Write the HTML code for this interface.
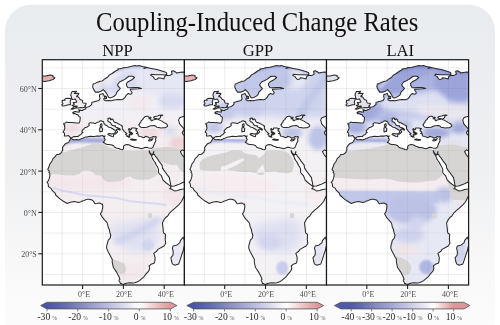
<!DOCTYPE html><html><head><meta charset="utf-8"><style>html,body{margin:0;padding:0;background:#fff;width:500px;height:325px;overflow:hidden}svg{display:block;will-change:transform}</style></head><body>
<svg width="500" height="325" viewBox="0 0 500 325">
<defs>
<linearGradient id="bg" x1="0" y1="0" x2="0" y2="1"><stop offset="0" stop-color="#e9ecef"/><stop offset="0.25" stop-color="#eceef1"/><stop offset="0.5" stop-color="#eff0f2"/><stop offset="0.62" stop-color="#f3f4f5"/><stop offset="0.72" stop-color="#f7f7f8"/><stop offset="0.85" stop-color="#fafafa"/><stop offset="1" stop-color="#fdfdfd"/></linearGradient>
<clipPath id="fr"><rect x="42.3" y="59.7" width="142.1" height="225.3"/></clipPath>
<path id="land" d="M70.8,138.6L71.8,138.3L71.8,138.9L73.2,139.8L74.6,139.7L76.7,139.6L78.1,140.0L79.9,139.6L81.4,138.6L82.8,138.3L85.3,137.1L87.1,136.9L88.7,136.5L90.6,136.3L93.0,136.6L94.4,136.4L96.7,136.1L98.5,136.1L100.1,136.1L102.8,135.4L103.4,136.4L105.1,135.9L104.2,137.3L104.2,138.5L105.2,139.1L104.6,140.7L103.2,142.4L104.8,143.1L105.2,143.7L107.5,144.5L109.5,144.5L111.8,145.0L113.6,145.8L114.6,147.2L116.5,148.0L119.3,148.8L120.5,149.5L122.6,149.7L123.6,148.6L123.4,147.4L123.6,146.2L125.2,144.9L126.9,144.5L128.7,144.7L129.9,145.3L131.6,146.3L133.8,146.8L134.0,147.4L136.7,147.4L138.1,147.7L141.6,148.7L143.6,148.0L144.6,147.5L145.8,147.2L147.5,147.4L148.5,147.9L151.6,148.2L152.9,147.4L153.5,146.2L154.0,144.7L154.4,143.7L155.0,142.4L155.7,141.3L155.8,140.4L155.5,139.1L155.8,138.3L156.3,136.9L155.6,136.6L154.6,136.9L153.2,136.5L151.8,137.5L149.5,138.1L147.9,137.0L145.2,136.3L144.8,137.3L143.0,137.7L142.0,136.9L140.3,136.5L138.5,135.9L138.1,135.2L138.2,134.3L136.3,133.4L137.9,133.1L137.1,132.1L137.1,131.3L135.8,130.9L136.5,129.5L136.0,129.7L136.7,128.9L137.2,128.6L135.7,128.4L135.3,128.1L133.6,127.9L132.4,127.9L131.2,128.3L131.4,129.0L130.2,130.0L129.4,128.8L129.3,128.5L128.7,128.9L128.7,129.8L129.4,131.2L130.1,131.7L129.1,132.1L129.9,132.7L130.7,133.3L131.6,133.8L131.6,134.7L130.7,134.1L129.4,134.1L129.8,134.7L129.9,135.4L129.0,134.9L129.3,136.1L129.6,136.7L129.9,137.2L129.0,136.6L128.6,136.6L128.5,137.3L128.2,136.5L127.7,136.0L127.4,136.5L126.9,136.4L126.8,135.5L126.3,134.7L125.6,134.2L126.9,133.5L126.3,133.3L125.6,132.6L124.9,132.0L124.2,131.3L123.9,130.9L123.4,130.1L123.1,129.7L122.3,128.9L122.3,128.2L122.3,127.2L122.4,126.1L121.8,125.9L121.6,125.5L120.7,125.1L119.5,124.4L118.3,123.7L116.2,122.6L115.1,122.6L113.6,121.4L113.4,120.8L113.0,119.5L112.1,118.8L111.6,119.3L111.0,120.0L110.3,119.3L110.3,118.5L110.6,118.2L109.5,118.0L107.8,118.6L108.2,119.6L107.7,120.8L108.2,121.5L110.3,122.4L111.4,124.3L111.6,124.7L113.2,125.7L115.0,125.8L115.6,125.9L115.0,126.5L115.9,127.2L117.1,127.5L119.2,128.5L120.3,129.5L120.0,130.3L119.2,129.7L117.8,128.9L116.5,129.5L116.3,130.5L117.4,131.1L117.6,131.8L116.4,133.2L115.3,134.1L114.5,133.8L114.9,132.6L115.6,132.2L115.3,131.3L114.8,130.1L114.5,129.7L113.8,129.8L113.1,129.2L112.7,128.5L111.9,128.6L111.7,128.1L111.1,127.9L110.2,127.4L109.2,127.3L108.3,126.9L107.6,126.3L106.7,125.5L105.2,124.9L104.9,124.3L104.0,123.8L104.0,123.0L103.6,122.5L103.5,121.8L102.7,121.4L101.8,121.0L100.8,120.7L99.9,121.0L99.2,121.7L98.4,122.0L97.4,122.3L97.1,122.5L96.4,122.8L95.6,123.4L94.6,123.4L93.5,123.0L92.5,122.9L92.0,122.9L91.2,122.7L90.1,122.8L89.6,123.1L88.8,123.6L88.8,124.3L89.3,125.1L89.1,125.6L87.1,127.0L85.7,127.4L85.1,127.6L84.3,128.4L83.6,129.0L82.7,129.9L81.9,131.0L82.3,131.9L83.0,132.5L81.6,133.3L81.3,134.0L80.6,134.8L79.3,135.2L78.1,136.6L77.6,136.4L75.5,136.6L73.6,136.6L72.6,137.1L71.7,137.8L71.2,138.1L69.7,137.0L69.5,136.5L68.4,135.6L66.4,136.0L64.3,136.0L64.6,134.2L64.4,133.1L63.8,132.5L63.2,132.4L63.4,131.2L64.1,130.5L64.4,129.5L64.8,128.6L64.9,127.5L64.5,126.3L64.4,125.5L64.8,125.2L64.0,124.5L63.7,123.9L63.8,123.3L65.5,122.9L66.5,122.1L68.2,122.5L71.1,122.5L74.8,122.7L76.6,122.9L78.6,123.0L79.4,122.7L79.9,121.2L80.0,120.2L80.2,118.5L80.2,117.2L78.9,116.4L78.2,115.7L78.1,114.8L77.1,114.4L76.3,114.4L75.7,113.9L74.6,113.6L73.7,113.7L73.0,113.2L73.8,113.0L73.2,112.7L72.8,112.6L72.9,112.2L74.4,111.8L75.5,111.6L76.5,111.7L77.5,112.1L78.5,112.0L79.5,112.0L79.3,111.6L79.3,110.9L78.6,109.8L79.3,109.9L80.0,109.8L80.3,110.4L82.2,110.6L82.8,110.3L82.9,109.9L83.4,109.7L84.8,109.3L85.7,108.8L85.9,107.7L86.4,107.2L87.4,107.0L88.6,106.7L89.5,106.4L89.9,106.0L90.8,105.2L91.0,105.1L91.3,104.9L91.9,104.1L91.7,102.6L95.0,101.5L98.9,100.4L100.0,98.7L99.4,96.0L99.7,94.6L101.6,94.0L103.0,93.5L104.1,95.7L105.0,97.9L103.9,98.4L103.9,99.9L105.5,100.7L108.3,100.5L111.1,100.7L114.1,99.9L118.1,99.5L121.5,99.7L123.5,98.9L125.2,97.2L126.2,95.2L128.3,93.5L130.3,94.2L131.7,93.8L132.0,92.2L130.7,90.5L130.3,89.3L134.4,88.9L138.2,88.8L141.5,88.4L138.2,87.6L134.4,87.5L129.6,87.8L127.8,87.4L126.6,85.8L126.4,83.5L128.1,81.7L131.8,79.8L134.5,77.5L132.7,76.2L129.0,76.2L127.2,77.5L124.9,79.4L122.1,80.8L119.5,82.0L117.5,84.7L118.5,86.7L120.3,88.4L118.8,90.1L116.8,92.2L115.8,94.9L114.1,96.2L111.4,97.6L110.0,98.0L108.8,97.6L107.7,95.4L106.1,92.7L103.3,89.6L101.0,91.2L98.9,92.1L95.5,92.1L93.9,89.9L93.4,88.5L93.0,87.7L92.7,86.9L92.7,86.1L92.9,85.2L93.1,84.0L95.1,83.4L96.1,82.9L96.9,82.5L98.3,82.1L100.1,81.3L102.2,80.9L103.4,80.1L104.0,79.4L105.5,78.5L107.5,77.3L108.3,76.2L109.1,75.1L112.0,73.5L113.8,72.2L115.2,71.2L116.5,70.4L118.3,69.6L117.9,68.9L121.3,68.6L123.2,67.7L125.4,67.5L127.5,67.3L130.9,66.5L132.6,66.0L135.2,65.5L136.7,65.9L139.0,65.6L140.7,65.9L143.4,66.7L146.0,67.1L144.4,67.9L143.9,68.5L146.9,67.6L151.2,68.4L157.0,69.6L162.8,71.3L166.3,72.5L166.9,74.2L165.1,75.0L161.6,74.8L155.8,74.8L151.2,74.2L150.6,75.4L153.0,76.6L154.1,78.3L155.3,79.5L157.6,78.9L158.2,77.7L161.6,78.3L164.0,78.9L164.5,76.6L166.3,75.6L169.8,75.4L172.1,74.2L171.5,71.3L173.2,70.8L175.6,71.9L176.7,73.1L179.0,72.5L182.5,71.9L186.0,72.5L190.0,72.5L205.0,71.0L205.0,149.5L185.2,150.1L185.2,150.5L183.6,150.5L182.4,149.9L181.5,150.6L180.5,151.5L180.4,151.8L180.8,152.4L181.4,153.6L182.2,155.0L183.2,156.3L184.6,157.3L185.0,158.3L185.8,159.8L187.7,161.9L196.8,161.9L204.6,166.0L199.9,173.2L194.8,177.3L188.7,179.8L182.8,182.5L178.5,184.6L174.4,186.0L171.3,186.3L170.7,185.0L170.2,181.9L169.7,180.0L169.4,177.6L167.3,174.9L165.4,172.2L163.8,170.1L162.5,168.1L162.1,166.0L162.2,165.4L161.1,163.9L160.2,162.7L159.1,161.4L158.5,160.4L157.0,158.2L155.2,156.1L154.4,154.6L153.4,154.4L153.8,151.5L153.4,152.6L153.0,153.6L152.5,155.2L151.1,154.0L150.1,152.8L149.0,150.6L149.2,151.5L149.3,152.4L150.3,154.0L151.7,156.3L152.5,158.6L153.8,160.7L155.6,163.1L155.2,163.1L156.9,166.0L157.4,166.6L158.5,169.1L158.5,172.0L158.8,173.0L160.5,174.9L161.3,175.5L162.8,179.4L163.1,180.2L164.6,181.5L166.6,183.3L169.8,185.6L170.9,186.7L170.6,188.5L169.5,188.7L170.9,189.0L171.3,189.0L174.4,190.9L177.5,190.4L180.5,189.4L183.6,189.0L187.1,188.0L187.5,191.0L186.4,192.8L184.2,195.9L181.5,201.5L178.9,204.6L175.1,208.2L172.4,210.4L169.4,213.2L167.5,216.2L166.0,217.2L164.4,219.1L163.5,220.8L162.4,223.0L162.8,226.5L163.1,228.6L163.2,230.8L163.7,233.1L164.6,233.7L165.5,234.5L165.2,239.2L165.6,242.4L165.7,243.5L164.0,246.0L157.9,249.4L156.7,251.3L153.7,253.4L154.6,255.8L155.1,257.9L154.8,261.7L154.0,263.2L151.1,264.3L149.1,266.0L149.7,267.8L149.1,270.3L148.0,271.9L145.9,274.1L144.4,276.3L142.4,278.1L139.5,280.6L137.5,281.8L134.9,282.7L133.3,283.1L129.6,282.8L127.8,283.0L125.4,283.5L123.4,284.4L122.0,283.9L121.1,283.4L120.3,283.4L120.2,282.5L119.3,281.0L119.0,280.1L119.9,279.4L119.6,278.3L118.5,275.8L116.2,271.6L114.6,269.2L113.4,267.5L113.0,265.9L112.2,262.0L112.2,259.8L112.2,259.3L111.2,257.5L109.5,254.2L108.1,251.7L106.6,248.1L106.8,245.1L107.4,243.8L108.1,240.3L109.9,238.4L110.2,238.0L110.8,235.2L109.9,232.7L109.5,230.6L109.1,229.0L108.1,226.9L107.7,224.9L107.5,223.9L106.8,222.4L105.2,220.6L104.3,219.6L102.8,217.8L102.4,217.6L100.4,213.8L101.9,211.6L102.0,210.4L102.5,208.6L102.8,206.4L102.4,204.1L101.4,204.2L100.3,203.2L99.5,203.1L97.9,203.3L96.7,203.5L95.0,203.7L93.8,201.9L92.6,200.3L89.5,199.2L87.5,199.3L85.1,199.9L84.4,200.4L82.2,201.0L80.6,201.9L78.3,202.6L76.5,201.9L74.4,201.6L71.4,202.0L68.9,202.8L67.2,203.5L65.1,202.3L63.4,201.3L60.6,199.4L59.1,198.2L55.6,195.0L55.5,193.9L54.7,192.8L53.2,191.4L52.2,190.4L50.8,188.1L49.1,187.1L48.4,186.5L48.3,184.8L48.0,183.5L46.9,182.1L47.7,181.6L48.7,180.0L48.9,179.3L49.6,177.3L49.9,175.1L49.7,173.2L48.9,172.4L49.3,171.1L47.8,169.6L48.1,168.7L49.1,166.2L50.1,163.5L51.6,161.9L53.0,158.6L55.5,156.4L56.3,154.7L59.3,154.2L61.8,152.4L61.8,151.8L62.9,149.6L62.5,149.2L62.6,147.4L63.7,145.8L65.3,143.8L67.1,143.1L68.6,142.2L69.1,141.6L70.1,139.8L70.3,139.2L70.5,138.5ZM105.2,96.0L106.6,96.8L106.4,98.6L105.3,98.8L104.9,97.5ZM71.0,109.1L72.4,109.2L74.2,108.5L75.5,108.0L76.5,107.8L78.5,108.0L80.4,107.6L83.0,107.7L84.6,107.2L85.5,106.8L84.4,106.1L85.3,105.5L86.2,104.0L85.9,103.2L83.2,103.1L82.8,102.4L82.6,101.8L82.4,100.7L81.4,99.9L80.2,99.6L79.5,98.5L78.9,97.5L77.9,96.8L76.5,96.7L77.3,96.2L76.9,95.8L78.1,95.0L78.4,94.3L78.9,93.6L77.5,93.3L75.5,93.4L74.2,93.5L74.8,92.9L75.9,92.1L76.4,91.3L74.4,91.4L72.4,91.4L71.8,92.3L71.4,93.1L71.0,94.1L70.8,95.2L71.2,96.2L71.4,97.2L71.2,98.3L72.2,98.9L72.6,99.5L73.8,99.3L75.3,99.0L75.7,99.7L76.1,100.5L76.7,101.5L76.4,102.2L75.7,102.3L74.2,102.5L73.2,102.4L73.4,103.2L74.2,103.7L74.2,104.5L73.2,104.9L72.0,105.3L72.3,105.8L74.0,105.9L75.3,106.2L76.5,106.0L77.3,106.2L76.3,106.7L74.0,106.7L73.4,107.1L73.2,107.7L72.4,108.1L71.8,108.6ZM70.4,104.7L69.5,104.7L68.3,104.8L65.9,105.6L63.8,106.1L62.2,105.8L61.8,104.7L63.0,103.8L62.4,102.8L62.0,102.0L62.6,100.7L62.2,100.3L65.1,100.3L64.6,99.4L65.7,98.6L67.7,98.2L70.0,98.4L71.0,99.3L70.8,100.3L70.2,101.1L70.2,102.4L70.4,103.2ZM32.6,77.2L37.7,75.3L41.8,76.0L45.9,75.9L50.0,75.1L53.0,75.5L52.8,76.6L54.9,77.8L53.0,79.5L48.9,80.7L44.5,81.5L39.8,80.7L36.3,80.4L37.7,79.5L33.6,78.4ZM107.9,134.4L108.3,133.8L109.9,133.6L111.8,134.0L114.4,133.4L113.6,135.0L113.4,136.7L112.0,136.5L109.3,135.2L108.3,134.8ZM99.7,128.0L101.4,127.3L102.6,128.6L102.4,130.1L102.2,131.6L101.0,131.5L99.9,132.0L99.7,130.7L99.8,129.4ZM100.1,125.9L100.4,124.5L101.7,123.7L101.9,124.5L102.1,125.5L101.4,127.0L100.6,126.5ZM130.5,139.6L132.0,138.9L133.6,139.2L136.3,139.6L136.0,140.2L133.0,140.3L130.7,139.8ZM148.5,140.4L149.7,139.3L152.0,139.1L153.2,138.7L151.8,140.0L152.0,140.3L149.9,141.0L148.7,140.8ZM183.2,237.2L184.4,240.1L185.5,244.5L184.0,246.7L183.4,250.0L181.7,254.8L180.3,259.3L178.7,263.9L174.8,265.3L172.4,263.9L171.5,261.0L170.9,257.9L173.0,255.0L173.2,251.7L172.4,248.2L173.2,245.9L177.1,244.9L179.9,242.6L180.5,240.3L182.2,238.3ZM129.1,132.3L130.3,132.0L131.8,132.6L132.8,133.9L131.6,133.4L130.3,132.9Z"/>
<clipPath id="lc"><use href="#land"/></clipPath>
<path id="seas" d="M142.0,127.4L140.7,127.2L139.7,126.4L138.7,124.7L139.5,124.2L139.6,123.2L140.6,122.8L141.0,121.2L141.4,120.6L143.2,119.2L143.0,118.7L143.8,117.9L145.3,116.5L146.9,116.2L147.7,116.2L148.9,117.3L150.5,117.3L151.1,117.7L148.9,118.8L150.6,119.1L151.1,119.9L150.9,120.4L151.4,120.8L152.3,120.6L152.8,120.1L153.9,119.8L154.8,119.4L155.8,119.5L157.1,118.8L156.0,118.6L155.0,118.7L154.0,118.1L153.6,117.2L154.8,116.5L157.7,115.9L159.2,115.2L162.0,115.0L162.8,115.2L160.6,116.0L160.5,117.4L159.5,118.5L158.7,118.9L157.5,119.1L158.7,119.7L159.7,120.1L162.3,121.4L163.6,122.4L166.2,123.7L167.6,125.4L167.5,126.4L165.2,127.8L163.6,127.8L160.9,128.0L159.9,127.8L156.8,127.2L156.0,126.3L154.3,125.6L152.0,125.7L150.5,125.8L147.5,126.9L146.8,127.2L144.8,127.4L143.0,127.4ZM179.5,117.9L178.5,120.4L178.9,121.0L179.5,123.7L181.1,125.6L182.6,127.2L183.8,128.6L185.4,129.0L184.4,129.2L183.4,130.9L182.3,132.4L182.4,133.2L183.6,135.0L185.6,136.0L187.7,136.5L190.7,136.4L192.8,135.4L192.6,131.9L190.7,125.7L187.3,123.4L186.6,120.6L190.7,118.9L191.1,115.8L188.5,115.2L183.6,116.4L181.5,117.0Z"/>
<path id="sahara" d="M44.0,156.0L57.4,154.2L62.8,152.7L72.8,149.6L82.8,147.3L92.8,143.5L100.5,143.5L106.6,146.5L112.0,148.5L115.2,150.2L121.9,150.2L130.4,149.4L143.9,149.4L149.0,150.5L153.1,157.5L157.5,164.0L155.8,168.8L154.1,171.4L150.7,173.9L145.6,175.6L138.8,175.6L130.4,177.3L121.9,179.3L113.5,178.1L105.0,179.8L100.5,174.2L94.3,172.7L88.2,170.7L83.5,170.4L77.4,173.2L68.2,174.7L57.4,175.3L48.9,174.2L44.0,174.0Z"/>
<path id="arabia" d="M152.4,149.5L160.8,148.5L172.7,146.8L179.4,147.7L186.0,148.0L186.0,163.0L182.8,163.8L177.8,165.5L172.7,167.1L165.9,163.8L160.8,161.2L157.5,160.0L153.1,157.5Z"/>
<filter id="b0" x="-20%" y="-20%" width="140%" height="140%"><feGaussianBlur stdDeviation="0.7"/></filter>
<filter id="b1" x="-20%" y="-20%" width="140%" height="140%"><feGaussianBlur stdDeviation="1.3"/></filter>
<filter id="b2" x="-20%" y="-20%" width="140%" height="140%"><feGaussianBlur stdDeviation="2.5"/></filter>
<filter id="b3" x="-20%" y="-20%" width="140%" height="140%"><feGaussianBlur stdDeviation="4.0"/></filter>
</defs>
<rect x="5" y="4.8" width="490" height="340" rx="26" ry="26" fill="url(#bg)"/>
<text x="257.1" y="30.8" text-anchor="middle" font-family="Liberation Serif" font-size="26.5" fill="#111" transform="translate(257.1,0) scale(0.932,1) translate(-257.1,0)">Coupling-Induced Change Rates</text>
<text x="117.4" y="55.6" text-anchor="middle" font-family="Liberation Serif" font-size="16.6" fill="#111">NPP</text>
<text x="257.9" y="55.6" text-anchor="middle" font-family="Liberation Serif" font-size="16.6" fill="#111">GPP</text>
<text x="400.3" y="55.6" text-anchor="middle" font-family="Liberation Serif" font-size="16.6" fill="#111">LAI</text>
<g transform="translate(0.0,0)">
<g clip-path="url(#fr)">
<rect x="42.3" y="59.7" width="142.1" height="225.3" fill="#fff"/>
<path d="M62.2,59.7V285.0M82.6,59.7V285.0M103.0,59.7V285.0M123.4,59.7V285.0M143.8,59.7V285.0M164.2,59.7V285.0M42.3,274.4H184.4M42.3,253.8H184.4M42.3,233.1H184.4M42.3,212.4H184.4M42.3,191.8H184.4M42.3,171.1H184.4M42.3,150.5H184.4M42.3,129.8H184.4M42.3,109.2H184.4M42.3,88.5H184.4M42.3,67.9H184.4" stroke="#000" stroke-opacity="0.075" stroke-width="1.0" fill="none"/>
<g clip-path="url(#lc)"><rect x="42.3" y="59.7" width="142.1" height="225.3" fill="#f4eef1"/><g filter="url(#b3)"><path d="M60.0,60.0L186.0,60.0L186.0,118.0L140.0,118.0L120.0,116.0L100.0,117.0L80.0,118.0L60.0,118.0Z" fill="#f1f0f7"/></g><g filter="url(#b2)"><path d="M112.0,80.0L120.0,74.0L130.0,70.0L145.0,70.0L150.0,76.0L148.0,86.0L140.0,90.0L126.0,88.0L120.0,92.0L116.0,96.0L112.0,92.0Z" fill="#d6daf0"/><ellipse cx="104" cy="90" rx="8" ry="6" fill="#d9dcf0"/><path d="M135.0,64.0L186.0,64.0L186.0,95.0L150.0,95.0L140.0,90.0L135.0,80.0Z" fill="#e6e7f4"/><ellipse cx="100" cy="78" rx="8" ry="8" fill="#eee4ea"/></g><g filter="url(#b1)"><path d="M100.0,78.0L110.0,72.0L120.0,68.5L130.0,66.0L142.0,65.5L155.0,67.0L168.0,70.0L186.0,71.0" fill="none" stroke="#c4c9ea" stroke-width="5" stroke-linecap="round" stroke-linejoin="round"/></g><g filter="url(#b2)"><ellipse cx="172" cy="101" rx="14" ry="8" fill="#d8dbf0"/><ellipse cx="140" cy="103" rx="12" ry="8" fill="#f2eaee"/></g><g filter="url(#b1)"><ellipse cx="48" cy="78" rx="10" ry="4" fill="#e6b0b3"/><ellipse cx="78" cy="97" rx="5" ry="7" fill="#f1e8ed"/></g><g filter="url(#b2)"><ellipse cx="72" cy="128" rx="9" ry="6" fill="#f0e0e4"/><ellipse cx="150" cy="133" rx="10" ry="4" fill="#f0dadd"/><ellipse cx="178" cy="143" rx="9" ry="7" fill="#edd2d5"/><ellipse cx="170" cy="131" rx="7" ry="5" fill="#dde0f1"/></g><g filter="url(#b1)"><path d="M60.0,144.0L68.0,139.5L80.0,138.5L96.0,138.5" fill="none" stroke="#efdce0" stroke-width="2" stroke-linecap="round" stroke-linejoin="round"/><path d="M58.0,145.5L63.0,142.5L69.0,141.0L76.0,140.3L86.0,140.2L96.0,140.5L102.0,140.5" fill="none" stroke="#a5acdc" stroke-width="5" stroke-linecap="round" stroke-linejoin="round"/></g><g filter="url(#b2)"><ellipse cx="85" cy="183" rx="48" ry="8" fill="#f4e7eb"/></g><g filter="url(#b0)"><path d="M53.5,188.0L62.0,190.5L70.8,192.3L85.2,195.2L99.6,196.6L116.9,198.0L128.4,200.9L142.8,202.4L157.2,203.8L166.0,205.0" fill="none" stroke="#d8daf0" stroke-width="2.0" stroke-linecap="round" stroke-linejoin="round"/></g><g filter="url(#b3)"><path d="M110.0,226.0L125.0,222.0L148.0,218.0L158.0,222.0L160.0,240.0L150.0,252.0L135.0,252.0L118.0,246.0L110.0,238.0Z" fill="#dfe1f2"/></g><g filter="url(#b2)"><path d="M158.0,220.0L145.0,228.0L130.0,236.0L118.0,241.0" fill="none" stroke="#cdd1ed" stroke-width="6" stroke-linecap="round" stroke-linejoin="round"/></g><g filter="url(#b1)"><ellipse cx="148" cy="245" rx="6" ry="6" fill="#d3d6ef"/></g><g filter="url(#b2)"><ellipse cx="130" cy="272" rx="14" ry="9" fill="#f3e8eb"/></g><g filter="url(#b1)"><ellipse cx="175" cy="250" rx="6" ry="14" fill="#e8e9f4"/></g><g filter="url(#b2)"><ellipse cx="174" cy="195" rx="10" ry="10" fill="#f3e5e8"/></g><path d="M38.0,157.0L57.4,154.2L62.8,152.7L72.8,149.6L82.8,147.3L92.8,143.5L100.0,143.6L103.5,144.6L107.0,146.3L114.0,149.1L121.0,151.0L128.0,150.6L135.0,150.5L141.5,150.5L147.0,150.6L148.5,151.8L149.9,156.0L152.6,161.5L155.4,166.5L157.5,170.5L157.8,174.0L156.0,175.8L152.4,178.1L148.8,179.4L145.2,179.4L141.6,179.9L136.2,179.4L131.7,178.1L130.8,176.3L129.0,176.7L125.4,177.6L123.6,179.4L120.0,181.2L115.4,181.6L110.4,182.0L106.2,181.6L103.3,179.2L101.2,176.3L99.1,175.3L96.2,175.6L94.1,173.5L92.0,172.1L89.6,170.8L82.4,170.8L80.0,173.8L74.0,175.4L68.0,175.6L62.0,175.0L56.0,174.2L49.4,174.4L38.0,174.4Z" fill="#d6d5d3"/><path d="M148.5,151.8L152.5,149.0L153.9,148.3L157.5,147.8L161.7,147.2L166.9,146.8L172.2,147.6L177.4,148.5L180.6,149.3L186.0,149.5L186.0,173.0L183.7,172.5L180.0,170.0L177.0,165.0L172.0,165.3L167.0,164.0L162.3,161.7L160.0,162.0L157.0,158.0L153.0,154.0Z" fill="#d6d5d3"/><path d="M148.0,213.3L152.0,213.3L152.0,218.2L148.0,218.2Z" fill="#d6d5d3"/><path d="M108.0,258.5L114.0,259.5L119.7,261.5L124.7,263.8L126.1,269.7L124.7,273.6L120.7,274.1L117.0,272.0L108.0,272.0Z" fill="#d6d5d3"/></g>
<path d="M62.2,59.7V285.0M82.6,59.7V285.0M103.0,59.7V285.0M123.4,59.7V285.0M143.8,59.7V285.0M164.2,59.7V285.0M42.3,274.4H184.4M42.3,253.8H184.4M42.3,233.1H184.4M42.3,212.4H184.4M42.3,191.8H184.4M42.3,171.1H184.4M42.3,150.5H184.4M42.3,129.8H184.4M42.3,109.2H184.4M42.3,88.5H184.4M42.3,67.9H184.4" stroke="#000" stroke-opacity="0.04" stroke-width="1.0" fill="none" clip-path="url(#lc)"/>
<use href="#land" fill="none" stroke="#2a2a2a" stroke-width="1.05" stroke-linejoin="round"/>
<use href="#seas" fill="#fff" stroke="#2a2a2a" stroke-width="1.05" stroke-linejoin="round"/>
</g>
<rect x="42.3" y="59.7" width="142.1" height="225.3" fill="none" stroke="#1a1a1a" stroke-width="1.2"/>
<path d="M82.6,285.0v4" stroke="#222" stroke-width="1.1"/>
<text x="84.1" y="296.8" text-anchor="middle" font-family="Liberation Serif" font-size="8" fill="#4d4d4d">0°E</text>
<path d="M123.4,285.0v4" stroke="#222" stroke-width="1.1"/>
<text x="124.0" y="296.8" text-anchor="middle" font-family="Liberation Serif" font-size="8" fill="#4d4d4d">20°E</text>
<path d="M164.2,285.0v4" stroke="#222" stroke-width="1.1"/>
<text x="165.8" y="296.8" text-anchor="middle" font-family="Liberation Serif" font-size="8" fill="#4d4d4d">40°E</text>
</g>
<g transform="translate(142.1,0)">
<g clip-path="url(#fr)">
<rect x="42.3" y="59.7" width="142.1" height="225.3" fill="#fff"/>
<path d="M62.2,59.7V285.0M82.6,59.7V285.0M103.0,59.7V285.0M123.4,59.7V285.0M143.8,59.7V285.0M164.2,59.7V285.0M42.3,274.4H184.4M42.3,253.8H184.4M42.3,233.1H184.4M42.3,212.4H184.4M42.3,191.8H184.4M42.3,171.1H184.4M42.3,150.5H184.4M42.3,129.8H184.4M42.3,109.2H184.4M42.3,88.5H184.4M42.3,67.9H184.4" stroke="#000" stroke-opacity="0.075" stroke-width="1.0" fill="none"/>
<g clip-path="url(#lc)"><rect x="42.3" y="59.7" width="142.1" height="225.3" fill="#f4f1f5"/><g filter="url(#b3)"><path d="M60.0,60.0L186.0,60.0L186.0,118.0L140.0,118.0L120.0,116.0L100.0,117.0L80.0,118.0L60.0,118.0Z" fill="#cfd4ee"/></g><g filter="url(#b2)"><ellipse cx="150" cy="80" rx="15" ry="10" fill="#e4e6f4"/><path d="M112.0,80.0L120.0,74.0L130.0,70.0L145.0,70.0L150.0,76.0L148.0,86.0L140.0,90.0L126.0,88.0L120.0,92.0L116.0,96.0L112.0,92.0Z" fill="#bec5e7"/><path d="M92.0,86.0L95.0,82.0L102.0,79.0L110.0,73.0L118.0,69.0L126.0,66.0L140.0,65.0L150.0,66.5L148.0,72.0L140.0,76.0L134.0,78.0L128.0,80.0L124.0,85.0L118.0,88.0L117.0,93.0L112.0,98.0L104.0,92.0L96.0,93.0Z" fill="#c1c7e8"/></g><g filter="url(#b1)"><path d="M100.0,78.0L110.0,72.0L120.0,68.5L130.0,66.0L142.0,65.5L155.0,67.0L168.0,70.0L186.0,71.0" fill="none" stroke="#aab1e1" stroke-width="5" stroke-linecap="round" stroke-linejoin="round"/></g><g filter="url(#b2)"><path d="M186.0,75.0L176.0,88.0L166.0,102.0L158.0,114.0" fill="none" stroke="#c0c7e8" stroke-width="8" stroke-linecap="round" stroke-linejoin="round"/></g><g filter="url(#b1)"><ellipse cx="48" cy="78" rx="10" ry="4" fill="#e8b3b6"/><ellipse cx="78" cy="97" rx="5" ry="7" fill="#e4e5f3"/></g><g filter="url(#b2)"><ellipse cx="72" cy="127" rx="9" ry="6" fill="#c1c7e8"/><ellipse cx="85" cy="112" rx="9" ry="7" fill="#c5caea"/><ellipse cx="108" cy="108" rx="15" ry="8" fill="#c9cdec"/><ellipse cx="150" cy="133" rx="11" ry="5" fill="#bbc1e6"/><ellipse cx="176" cy="138" rx="10" ry="12" fill="#bcc3e6"/></g><g filter="url(#b1)"><path d="M58.0,145.5L63.0,142.5L69.0,141.0L76.0,140.3L86.0,140.2L96.0,140.5L102.0,140.5" fill="none" stroke="#adb4e1" stroke-width="4" stroke-linecap="round" stroke-linejoin="round"/></g><g filter="url(#b2)"><ellipse cx="85" cy="186" rx="50" ry="12" fill="#f5edf0"/></g><g filter="url(#b1)"><path d="M53.5,188.0L62.0,190.5L70.8,192.3L85.2,195.2L99.6,196.6L116.9,198.0L128.4,200.9L142.8,202.4L157.2,203.8L166.0,205.0" fill="none" stroke="#eaedf6" stroke-width="3.0" stroke-linecap="round" stroke-linejoin="round"/></g><g filter="url(#b2)"><ellipse cx="172" cy="192" rx="10" ry="10" fill="#f4ecef"/></g><g filter="url(#b3)"><path d="M110.0,226.0L125.0,222.0L148.0,218.0L158.0,222.0L160.0,240.0L150.0,252.0L135.0,252.0L118.0,246.0L110.0,238.0Z" fill="#dee0f1"/></g><g filter="url(#b2)"><ellipse cx="128" cy="242" rx="12" ry="8" fill="#d3d6ef"/></g><g filter="url(#b1)"><ellipse cx="140" cy="268" rx="6" ry="7" fill="#c9cdec"/><ellipse cx="175" cy="250" rx="6" ry="14" fill="#e4e5f2"/></g><path d="M58.1,170.0L57.4,165.0L58.1,161.7L60.9,159.0L64.3,157.5L68.9,155.8L74.7,154.4L79.9,153.2L83.9,152.5L88.9,150.5L95.9,150.3L99.9,150.5L101.9,153.0L107.9,154.5L113.9,155.0L114.9,156.0L116.9,158.0L119.9,156.0L121.9,154.0L123.9,151.0L128.9,150.5L133.9,150.2L138.9,150.8L143.5,151.7L146.9,153.5L149.7,157.5L151.4,161.5L151.8,165.8L150.9,169.5L149.7,172.0L145.4,173.3L141.4,173.1L137.2,172.5L133.9,171.5L125.9,172.0L122.9,172.0L120.9,175.0L116.9,175.0L113.9,173.0L107.9,172.0L101.9,172.0L95.9,171.5L88.9,170.5L85.2,170.0L79.9,170.5L74.7,171.0L67.9,170.8L62.9,170.5Z" fill="#d6d5d3"/><path d="M148.0,213.3L152.0,213.3L152.0,218.2L148.0,218.2Z" fill="#d6d5d3"/><path d="M78.9,166.5L83.9,165.5L93.9,161.0L100.9,158.0L102.4,160.0L94.9,165.0L83.9,170.0L78.9,171.0Z" fill="#f4f1f5"/><path d="M113.9,172.5L120.9,164.0L122.9,172.5Z" fill="#f4f1f5"/></g>
<path d="M62.2,59.7V285.0M82.6,59.7V285.0M103.0,59.7V285.0M123.4,59.7V285.0M143.8,59.7V285.0M164.2,59.7V285.0M42.3,274.4H184.4M42.3,253.8H184.4M42.3,233.1H184.4M42.3,212.4H184.4M42.3,191.8H184.4M42.3,171.1H184.4M42.3,150.5H184.4M42.3,129.8H184.4M42.3,109.2H184.4M42.3,88.5H184.4M42.3,67.9H184.4" stroke="#000" stroke-opacity="0.04" stroke-width="1.0" fill="none" clip-path="url(#lc)"/>
<use href="#land" fill="none" stroke="#2a2a2a" stroke-width="1.05" stroke-linejoin="round"/>
<use href="#seas" fill="#fff" stroke="#2a2a2a" stroke-width="1.05" stroke-linejoin="round"/>
</g>
<rect x="42.3" y="59.7" width="142.1" height="225.3" fill="none" stroke="#1a1a1a" stroke-width="1.2"/>
<path d="M82.6,285.0v4" stroke="#222" stroke-width="1.1"/>
<text x="84.1" y="296.8" text-anchor="middle" font-family="Liberation Serif" font-size="8" fill="#4d4d4d">0°E</text>
<path d="M123.4,285.0v4" stroke="#222" stroke-width="1.1"/>
<text x="124.0" y="296.8" text-anchor="middle" font-family="Liberation Serif" font-size="8" fill="#4d4d4d">20°E</text>
<path d="M164.2,285.0v4" stroke="#222" stroke-width="1.1"/>
<text x="165.8" y="296.8" text-anchor="middle" font-family="Liberation Serif" font-size="8" fill="#4d4d4d">40°E</text>
</g>
<g transform="translate(284.2,0)">
<g clip-path="url(#fr)">
<rect x="42.3" y="59.7" width="142.1" height="225.3" fill="#fff"/>
<path d="M62.2,59.7V285.0M82.6,59.7V285.0M103.0,59.7V285.0M123.4,59.7V285.0M143.8,59.7V285.0M164.2,59.7V285.0M42.3,274.4H184.4M42.3,253.8H184.4M42.3,233.1H184.4M42.3,212.4H184.4M42.3,191.8H184.4M42.3,171.1H184.4M42.3,150.5H184.4M42.3,129.8H184.4M42.3,109.2H184.4M42.3,88.5H184.4M42.3,67.9H184.4" stroke="#000" stroke-opacity="0.075" stroke-width="1.0" fill="none"/>
<g clip-path="url(#lc)"><rect x="42.3" y="59.7" width="142.1" height="225.3" fill="#e6e8f4"/><g filter="url(#b3)"><path d="M60.0,60.0L186.0,60.0L186.0,118.0L140.0,118.0L120.0,116.0L100.0,117.0L80.0,118.0L60.0,118.0Z" fill="#adb4e1"/></g><g filter="url(#b2)"><path d="M92.0,86.0L95.0,82.0L102.0,79.0L110.0,73.0L118.0,69.0L126.0,66.0L140.0,65.0L150.0,66.5L148.0,72.0L140.0,76.0L134.0,78.0L128.0,80.0L124.0,85.0L118.0,88.0L117.0,93.0L112.0,98.0L104.0,92.0L96.0,93.0Z" fill="#9ca5da"/></g><g filter="url(#b1)"><path d="M96.0,87.0L101.0,82.0L106.0,77.0L112.0,72.0L119.0,69.0" fill="none" stroke="#c7caeb" stroke-width="3" stroke-linecap="round" stroke-linejoin="round"/></g><g filter="url(#b2)"><path d="M150.0,64.0L186.0,64.0L186.0,100.0L150.0,100.0Z" fill="#9ca4da"/></g><g filter="url(#b1)"><path d="M100.0,78.0L110.0,72.0L120.0,68.5L130.0,66.0L142.0,65.5L155.0,67.0L168.0,70.0L186.0,71.0" fill="none" stroke="#8791d2" stroke-width="6" stroke-linecap="round" stroke-linejoin="round"/></g><g filter="url(#b2)"><path d="M96.0,97.0L110.0,96.0L125.0,95.0L140.0,92.0L152.0,90.0L160.0,96.0L166.0,103.0L186.0,104.0L186.0,118.0L166.0,120.0L150.0,118.0L130.0,114.0L115.0,112.0L100.0,110.0L96.0,104.0Z" fill="#dde0f2"/><path d="M132.0,106.0L150.0,105.0L170.0,104.0L186.0,106.0L186.0,118.0L170.0,121.0L150.0,119.0L135.0,114.0Z" fill="#eae6ef"/></g><g filter="url(#b1)"><ellipse cx="48" cy="78" rx="10" ry="4" fill="#e0e2ef"/></g><g filter="url(#b2)"><ellipse cx="85" cy="113" rx="10" ry="8" fill="#a3abdd"/><ellipse cx="72" cy="127" rx="10" ry="7" fill="#a8afdf"/><ellipse cx="104" cy="120" rx="10" ry="5" fill="#a9b1e0"/><ellipse cx="120" cy="125" rx="8" ry="6" fill="#bbc1e6"/></g><g filter="url(#b0)"><path d="M60.0,96.0L70.0,88.0L82.0,88.0L86.0,98.0L87.5,104.0L85.0,107.5L78.0,109.5L70.0,109.0L60.0,106.0Z" fill="#e3e1ea"/></g><g filter="url(#b2)"><ellipse cx="152" cy="133" rx="14" ry="5" fill="#9ea5da"/><ellipse cx="175" cy="128" rx="9" ry="6" fill="#a4acdd"/><ellipse cx="170" cy="143" rx="14" ry="4" fill="#e3e1ed"/></g><g filter="url(#b1)"><path d="M58.0,145.5L63.0,142.5L69.0,141.0L76.0,140.3L86.0,140.2L96.0,140.5L102.0,140.5" fill="none" stroke="#9fa7db" stroke-width="3.5" stroke-linecap="round" stroke-linejoin="round"/><path d="M60.0,148.5L70.0,146.5L85.0,145.5L99.0,143.5" fill="none" stroke="#f2ebef" stroke-width="2.5" stroke-linecap="round" stroke-linejoin="round"/><path d="M40.0,176.0L170.0,176.0L170.0,190.0L100.0,190.5L40.0,190.5Z" fill="#f4ecef"/><path d="M48.0,190.5L155.0,191.5L155.0,203.0L100.0,205.0L48.0,203.0Z" fill="#c1c7e9"/></g><g filter="url(#b2)"><ellipse cx="127" cy="210" rx="26" ry="14" fill="#bcc1e6"/><ellipse cx="133" cy="222" rx="8" ry="6" fill="#d1d4ed"/><ellipse cx="160" cy="195" rx="8" ry="8" fill="#bbc1e5"/><ellipse cx="178" cy="200" rx="6" ry="10" fill="#f0e6ea"/><ellipse cx="125" cy="235" rx="15" ry="8" fill="#d0d3ed"/><ellipse cx="122" cy="250" rx="12" ry="6" fill="#f0e4e8"/></g><g filter="url(#b1)"><ellipse cx="142" cy="267" rx="7" ry="7" fill="#afb6e2"/><ellipse cx="175" cy="250" rx="6" ry="14" fill="#d1d4ed"/></g><path d="M38.0,153.0L59.1,151.6L70.6,150.2L85.0,148.7L99.4,145.8L103.0,144.8L108.0,144.0L113.8,144.0L121.0,145.5L128.2,146.5L140.0,146.8L147.0,147.5L148.5,151.8L149.9,156.0L152.6,161.5L155.4,166.5L157.5,170.5L158.0,175.0L155.0,178.0L151.3,180.4L142.6,181.3L135.0,182.4L128.2,182.4L120.0,181.9L113.8,181.5L106.0,179.2L99.4,178.4L85.0,179.6L70.6,179.0L50.4,177.6L38.0,177.6Z" fill="#d6d5d3"/><path d="M148.5,151.8L152.9,145.9L160.0,144.8L170.1,144.4L181.7,147.3L186.0,148.0L186.0,200.0L168.0,200.0L160.5,167.0L156.0,160.0L152.0,154.0Z" fill="#d6d5d3"/><path d="M148.0,213.3L152.0,213.3L152.0,218.2L148.0,218.2Z" fill="#d6d5d3"/><path d="M106.0,256.0L112.0,256.5L118.0,258.0L123.0,261.0L126.5,265.0L127.0,270.0L125.0,274.0L120.7,275.5L116.0,274.0L106.0,273.0Z" fill="#d6d5d3"/></g>
<path d="M62.2,59.7V285.0M82.6,59.7V285.0M103.0,59.7V285.0M123.4,59.7V285.0M143.8,59.7V285.0M164.2,59.7V285.0M42.3,274.4H184.4M42.3,253.8H184.4M42.3,233.1H184.4M42.3,212.4H184.4M42.3,191.8H184.4M42.3,171.1H184.4M42.3,150.5H184.4M42.3,129.8H184.4M42.3,109.2H184.4M42.3,88.5H184.4M42.3,67.9H184.4" stroke="#000" stroke-opacity="0.04" stroke-width="1.0" fill="none" clip-path="url(#lc)"/>
<use href="#land" fill="none" stroke="#2a2a2a" stroke-width="1.05" stroke-linejoin="round"/>
<use href="#seas" fill="#fff" stroke="#2a2a2a" stroke-width="1.05" stroke-linejoin="round"/>
</g>
<rect x="42.3" y="59.7" width="142.1" height="225.3" fill="none" stroke="#1a1a1a" stroke-width="1.2"/>
<path d="M82.6,285.0v4" stroke="#222" stroke-width="1.1"/>
<text x="84.1" y="296.8" text-anchor="middle" font-family="Liberation Serif" font-size="8" fill="#4d4d4d">0°E</text>
<path d="M123.4,285.0v4" stroke="#222" stroke-width="1.1"/>
<text x="124.0" y="296.8" text-anchor="middle" font-family="Liberation Serif" font-size="8" fill="#4d4d4d">20°E</text>
<path d="M164.2,285.0v4" stroke="#222" stroke-width="1.1"/>
<text x="165.8" y="296.8" text-anchor="middle" font-family="Liberation Serif" font-size="8" fill="#4d4d4d">40°E</text>
</g>
<path d="M38.3,88.5h4" stroke="#222" stroke-width="1.1"/>
<text x="36.8" y="92.0" text-anchor="end" font-family="Liberation Serif" font-size="8" fill="#4d4d4d">60°N</text>
<path d="M38.3,129.8h4" stroke="#222" stroke-width="1.1"/>
<text x="36.8" y="133.2" text-anchor="end" font-family="Liberation Serif" font-size="8" fill="#4d4d4d">40°N</text>
<path d="M38.3,171.1h4" stroke="#222" stroke-width="1.1"/>
<text x="36.8" y="174.5" text-anchor="end" font-family="Liberation Serif" font-size="8" fill="#4d4d4d">20°N</text>
<path d="M38.3,212.4h4" stroke="#222" stroke-width="1.1"/>
<text x="36.8" y="215.8" text-anchor="end" font-family="Liberation Serif" font-size="8" fill="#4d4d4d">0°N</text>
<path d="M38.3,253.8h4" stroke="#222" stroke-width="1.1"/>
<text x="36.8" y="257.1" text-anchor="end" font-family="Liberation Serif" font-size="8" fill="#4d4d4d">20°S</text>
<defs><linearGradient id="cb0" gradientUnits="userSpaceOnUse" x1="47.0" y1="0" x2="170.4" y2="0"><stop offset="0.0000" stop-color="#4a55a5"/><stop offset="0.1250" stop-color="#5f68af"/><stop offset="0.2500" stop-color="#7f84be"/><stop offset="0.3750" stop-color="#9ea1cf"/><stop offset="0.5000" stop-color="#bcbde0"/><stop offset="0.6250" stop-color="#dcdcee"/><stop offset="0.7250" stop-color="#f8f8fb"/><stop offset="0.7500" stop-color="#ffffff"/><stop offset="0.8125" stop-color="#f7e5e6"/><stop offset="0.8750" stop-color="#eec9ca"/><stop offset="0.9375" stop-color="#e5afb1"/><stop offset="1.0000" stop-color="#dd9799"/></linearGradient><linearGradient id="cb1" gradientUnits="userSpaceOnUse" x1="193.6" y1="0" x2="317.1" y2="0"><stop offset="0.0000" stop-color="#4a55a5"/><stop offset="0.1250" stop-color="#5f68af"/><stop offset="0.2500" stop-color="#7f84be"/><stop offset="0.3750" stop-color="#9ea1cf"/><stop offset="0.5000" stop-color="#bcbde0"/><stop offset="0.6250" stop-color="#dcdcee"/><stop offset="0.7250" stop-color="#f8f8fb"/><stop offset="0.7500" stop-color="#ffffff"/><stop offset="0.8125" stop-color="#f7e5e6"/><stop offset="0.8750" stop-color="#eec9ca"/><stop offset="0.9375" stop-color="#e5afb1"/><stop offset="1.0000" stop-color="#dd9799"/></linearGradient><linearGradient id="cb2" gradientUnits="userSpaceOnUse" x1="351.2" y1="0" x2="453.7" y2="0"><stop offset="0.0000" stop-color="#4e59a7"/><stop offset="0.1000" stop-color="#626bb1"/><stop offset="0.2000" stop-color="#7c82bd"/><stop offset="0.3000" stop-color="#9295c9"/><stop offset="0.4000" stop-color="#a5a8d4"/><stop offset="0.5000" stop-color="#bbbde0"/><stop offset="0.6000" stop-color="#cfd0e8"/><stop offset="0.7000" stop-color="#e6e6f2"/><stop offset="0.7800" stop-color="#fafafc"/><stop offset="0.8000" stop-color="#ffffff"/><stop offset="0.8500" stop-color="#f7e4e5"/><stop offset="0.9000" stop-color="#eec8ca"/><stop offset="0.9500" stop-color="#e5aeb0"/><stop offset="1.0000" stop-color="#dd9799"/></linearGradient></defs><path d="M40.7,305.60L46.8,302.3H170.6L176.9,305.60L170.6,308.9H46.8Z" fill="url(#cb0)" stroke="#555" stroke-width="0.8"/><path d="M47.0,308.9v2.5" stroke="#666" stroke-width="0.8"/><text x="47.2" y="319.8" text-anchor="middle" font-family="Liberation Serif" font-size="9.6" fill="#2a2a2a">-30<tspan font-size="6" dx="1.8" fill="#555">%</tspan></text><path d="M77.8,308.9v2.5" stroke="#666" stroke-width="0.8"/><text x="78.0" y="319.8" text-anchor="middle" font-family="Liberation Serif" font-size="9.6" fill="#2a2a2a">-20<tspan font-size="6" dx="1.8" fill="#555">%</tspan></text><path d="M108.6,308.9v2.5" stroke="#666" stroke-width="0.8"/><text x="108.8" y="319.8" text-anchor="middle" font-family="Liberation Serif" font-size="9.6" fill="#2a2a2a">-10<tspan font-size="6" dx="1.8" fill="#555">%</tspan></text><path d="M139.4,308.9v2.5" stroke="#666" stroke-width="0.8"/><text x="139.6" y="319.8" text-anchor="middle" font-family="Liberation Serif" font-size="9.6" fill="#2a2a2a">0<tspan font-size="6" dx="1.8" fill="#555">%</tspan></text><path d="M170.4,308.9v2.5" stroke="#666" stroke-width="0.8"/><text x="170.6" y="319.8" text-anchor="middle" font-family="Liberation Serif" font-size="9.6" fill="#2a2a2a">10<tspan font-size="6" dx="1.8" fill="#555">%</tspan></text><path d="M186.8,305.60L193.6,302.3H317.2L323.6,305.60L317.2,308.9H193.6Z" fill="url(#cb1)" stroke="#555" stroke-width="0.8"/><path d="M193.6,308.9v2.5" stroke="#666" stroke-width="0.8"/><text x="193.8" y="319.8" text-anchor="middle" font-family="Liberation Serif" font-size="9.6" fill="#2a2a2a">-30<tspan font-size="6" dx="1.8" fill="#555">%</tspan></text><path d="M224.5,308.9v2.5" stroke="#666" stroke-width="0.8"/><text x="224.7" y="319.8" text-anchor="middle" font-family="Liberation Serif" font-size="9.6" fill="#2a2a2a">-20<tspan font-size="6" dx="1.8" fill="#555">%</tspan></text><path d="M255.3,308.9v2.5" stroke="#666" stroke-width="0.8"/><text x="255.5" y="319.8" text-anchor="middle" font-family="Liberation Serif" font-size="9.6" fill="#2a2a2a">-10<tspan font-size="6" dx="1.8" fill="#555">%</tspan></text><path d="M286.2,308.9v2.5" stroke="#666" stroke-width="0.8"/><text x="286.4" y="319.8" text-anchor="middle" font-family="Liberation Serif" font-size="9.6" fill="#2a2a2a">0<tspan font-size="6" dx="1.8" fill="#555">%</tspan></text><path d="M317.1,308.9v2.5" stroke="#666" stroke-width="0.8"/><text x="317.3" y="319.8" text-anchor="middle" font-family="Liberation Serif" font-size="9.6" fill="#2a2a2a">10<tspan font-size="6" dx="1.8" fill="#555">%</tspan></text><path d="M334.4,305.60L340.9,302.3H463.8L469.8,305.60L463.8,308.9H340.9Z" fill="url(#cb2)" stroke="#555" stroke-width="0.8"/><path d="M351.2,308.9v2.5" stroke="#666" stroke-width="0.8"/><text x="351.4" y="319.8" text-anchor="middle" font-family="Liberation Serif" font-size="9.6" fill="#2a2a2a">-40<tspan font-size="6" dx="1.8" fill="#555">%</tspan></text><path d="M371.6,308.9v2.5" stroke="#666" stroke-width="0.8"/><text x="371.8" y="319.8" text-anchor="middle" font-family="Liberation Serif" font-size="9.6" fill="#2a2a2a">-30<tspan font-size="6" dx="1.8" fill="#555">%</tspan></text><path d="M392.1,308.9v2.5" stroke="#666" stroke-width="0.8"/><text x="392.3" y="319.8" text-anchor="middle" font-family="Liberation Serif" font-size="9.6" fill="#2a2a2a">-20<tspan font-size="6" dx="1.8" fill="#555">%</tspan></text><path d="M412.6,308.9v2.5" stroke="#666" stroke-width="0.8"/><text x="412.8" y="319.8" text-anchor="middle" font-family="Liberation Serif" font-size="9.6" fill="#2a2a2a">-10<tspan font-size="6" dx="1.8" fill="#555">%</tspan></text><path d="M433.1,308.9v2.5" stroke="#666" stroke-width="0.8"/><text x="433.3" y="319.8" text-anchor="middle" font-family="Liberation Serif" font-size="9.6" fill="#2a2a2a">0<tspan font-size="6" dx="1.8" fill="#555">%</tspan></text><path d="M453.7,308.9v2.5" stroke="#666" stroke-width="0.8"/><text x="453.9" y="319.8" text-anchor="middle" font-family="Liberation Serif" font-size="9.6" fill="#2a2a2a">10<tspan font-size="6" dx="1.8" fill="#555">%</tspan></text>
</svg></body></html>
